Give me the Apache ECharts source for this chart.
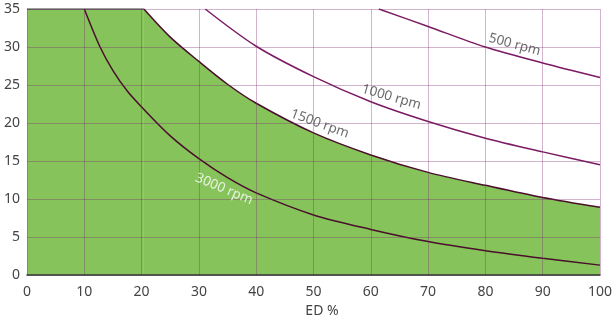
<!DOCTYPE html>
<html><head><meta charset="utf-8">
<script src="https://cdn.jsdelivr.net/npm/echarts@6/dist/echarts.min.js"></script>
<style>html,body{margin:0;padding:0;background:#fff}#c{width:615px;height:323px}</style>
</head><body><div id="c"></div>
<script>
// Data: [ED %, value]
const rpm3000 = [[10,35],[12.75,30],[15,26.9],[17.5,24.2],[20,22.1],[25,18.3],[30,15.3],[35,12.8],[40,10.8],[50,7.9],[60,6.0],[70,4.4],[80,3.2],[90,2.2],[100,1.3]];
const rpm1500Cap = [[0,35],[20.4,35]];
const rpm1500 = [[20.4,35],[25,31.3],[30,28.1],[35,25.1],[40,22.6],[50,18.7],[60,15.8],[70,13.5],[80,11.8],[90,10.2],[100,8.9]];
const rpm1000 = [[31.1,35],[40,30.1],[50,26.1],[60,22.8],[70,20.2],[80,18.0],[90,16.2],[100,14.5]];
const rpm500 = [[61.4,35],[70,32.7],[80,30.0],[90,27.9],[100,26.0]];
const curveLabels = [
  {value:[85.1,30.3], name:'500 rpm', rot:-15, color:'#444'},
  {value:[63.6,23.4], name:'1000 rpm', rot:-16, color:'#444'},
  {value:[51.1,19.9], name:'1500 rpm', rot:-20, color:'#444'},
  {value:[34.4,11.3], name:'3000 rpm', rot:-23, color:'#fff'}
];
const xName = 'ED %';

const chart = echarts.init(document.getElementById('c'));
const font = 'Noto Sans';
const dark = '#4a0f2c', purple = '#7b1b63';
function line(data, color, extra){
  return Object.assign({type:'line', data, smooth:0.3, symbol:'none', silent:true,
    lineStyle:{color, width:1.5}, clip:true, z:3}, extra||{});
}
chart.setOption({
  animation:false,
  grid:{left:27,right:10,top:9,bottom:48},
  xAxis:{type:'value', min:0, max:100, interval:10, z:10,
    name:xName, nameLocation:'middle', nameGap:29,
    nameTextStyle:{fontFamily:font, fontSize:14, color:'#444', padding:[0,0,0,17]},
    axisLine:{show:true, lineStyle:{color:'#333', width:1.5}},
    axisTick:{show:false},
    axisLabel:{fontFamily:font, fontSize:14, color:'#444', margin:10},
    splitLine:{show:true, lineStyle:{color:'rgba(125,40,115,0.35)', width:1}}
  },
  yAxis:{type:'value', min:0, max:35, interval:5, z:10,
    axisLine:{show:false}, axisTick:{show:false},
    axisLabel:{fontFamily:font, fontSize:14, color:'#444', margin:7},
    splitLine:{show:true, lineStyle:{color:'rgba(125,40,115,0.35)', width:1}}
  },
  series:[
    line(rpm1500Cap, '#555', {smooth:false, areaStyle:{color:'#86c35a', opacity:1}, z:2, lineStyle:{color:'#555', width:1.5}}),
    line(rpm1500, dark, {areaStyle:{color:'#86c35a', opacity:1}, z:2}),
    line(rpm3000, dark),
    line(rpm1000, purple),
    line(rpm500, purple),
    {type:'scatter', symbolSize:0, silent:true, z:12,
      data: curveLabels.map(d=>({value:d.value, name:d.name,
        label:{show:true, position:'inside', formatter:d.name, rotate:d.rot,
          color:d.color, fontFamily:font, fontSize:13.5}}))
    }
  ]
});
</script></body></html>
